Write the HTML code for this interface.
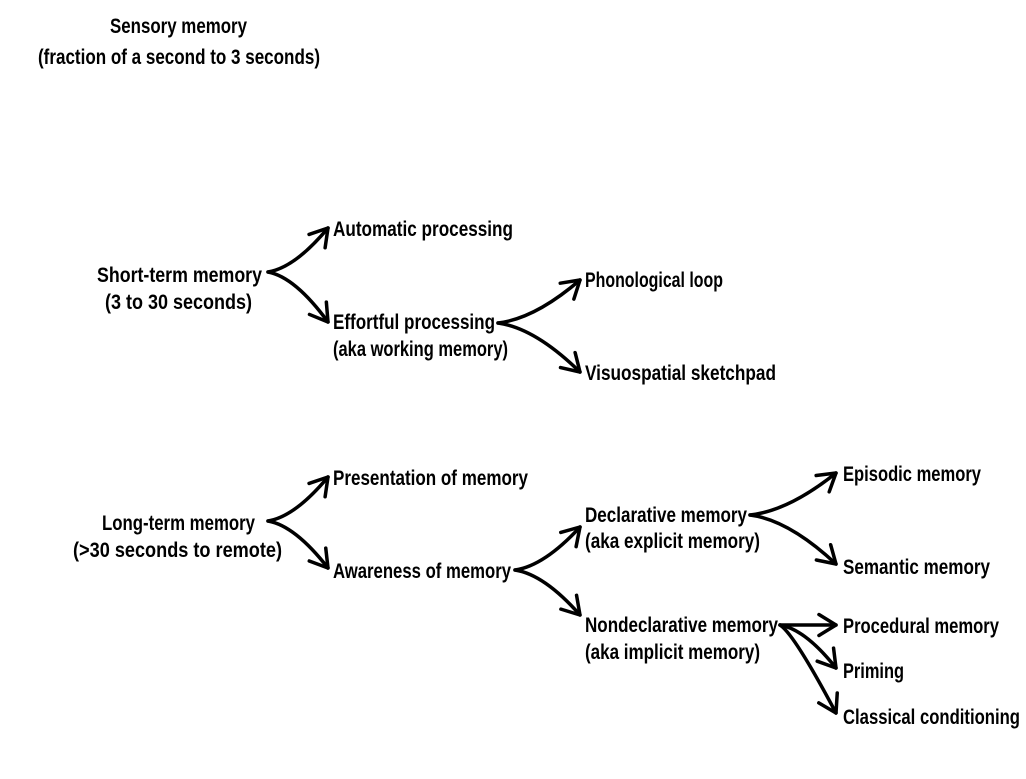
<!DOCTYPE html>
<html><head><meta charset="utf-8"><style>
html,body{margin:0;padding:0;background:#fff;}
svg text{font-family:"Liberation Sans Narrow","Liberation Sans",sans-serif;font-size:21px;fill:#000;font-weight:bold;}
</style></head><body>
<svg id="s" width="1026" height="774" viewBox="0 0 1026 774" xmlns="http://www.w3.org/2000/svg">
<g id="t">
<text x="110" y="33" textLength="137" lengthAdjust="spacingAndGlyphs">Sensory memory</text>
<text x="38" y="64" textLength="282" lengthAdjust="spacingAndGlyphs">(fraction of a second to 3 seconds)</text>
<text x="333" y="236" textLength="180" lengthAdjust="spacingAndGlyphs">Automatic processing</text>
<text x="97" y="282" textLength="165" lengthAdjust="spacingAndGlyphs">Short-term memory</text>
<text x="105" y="309" textLength="147" lengthAdjust="spacingAndGlyphs">(3 to 30 seconds)</text>
<text x="333" y="329" textLength="162" lengthAdjust="spacingAndGlyphs">Effortful processing</text>
<text x="333" y="356" textLength="175" lengthAdjust="spacingAndGlyphs">(aka working memory)</text>
<text x="585" y="287" textLength="138" lengthAdjust="spacingAndGlyphs">Phonological loop</text>
<text x="585" y="380" textLength="191" lengthAdjust="spacingAndGlyphs">Visuospatial sketchpad</text>
<text x="333" y="485" textLength="195" lengthAdjust="spacingAndGlyphs">Presentation of memory</text>
<text x="102" y="530" textLength="153" lengthAdjust="spacingAndGlyphs">Long-term memory</text>
<text x="73" y="557" textLength="209" lengthAdjust="spacingAndGlyphs">(&gt;30 seconds to remote)</text>
<text x="333" y="578" textLength="178" lengthAdjust="spacingAndGlyphs">Awareness of memory</text>
<text x="585" y="522" textLength="162" lengthAdjust="spacingAndGlyphs">Declarative memory</text>
<text x="585" y="548" textLength="175" lengthAdjust="spacingAndGlyphs">(aka explicit memory)</text>
<text x="843" y="481" textLength="138" lengthAdjust="spacingAndGlyphs">Episodic memory</text>
<text x="843" y="574" textLength="147" lengthAdjust="spacingAndGlyphs">Semantic memory</text>
<text x="585" y="632" textLength="193" lengthAdjust="spacingAndGlyphs">Nondeclarative memory</text>
<text x="585" y="659" textLength="175" lengthAdjust="spacingAndGlyphs">(aka implicit memory)</text>
<text x="843" y="633" textLength="156" lengthAdjust="spacingAndGlyphs">Procedural memory</text>
<text x="843" y="678" textLength="61" lengthAdjust="spacingAndGlyphs">Priming</text>
<text x="843" y="724" textLength="177" lengthAdjust="spacingAndGlyphs">Classical conditioning</text>
</g>
<g id="a" fill="none" stroke="#000" stroke-width="3.5" stroke-linecap="round" stroke-linejoin="round"></g>
</svg>
<script>
var g=document.getElementById('a');
function arrow(x0,y0,x1,y1,straight,k){
  var cx,cy,d;k=k||0.45;
  if(straight){d='M'+x0+' '+y0+' L'+x1+' '+y1;cx=x0;cy=y0;}
  else{cx=x0+(x1-x0)*k;cy=y0+(y1-y0)*0.1;d='M'+x0+' '+y0+' Q'+cx+' '+cy+' '+x1+' '+y1;}
  var p=document.createElementNS('http://www.w3.org/2000/svg','path');p.setAttribute('d',d);g.appendChild(p);
  var ang=Math.atan2(y1-cy,x1-cx),L=20,sp=0.55;
  var ax=x1-L*Math.cos(ang-sp),ay=y1-L*Math.sin(ang-sp),bx=x1-L*Math.cos(ang+sp),by=y1-L*Math.sin(ang+sp);
  var h=document.createElementNS('http://www.w3.org/2000/svg','path');
  h.setAttribute('d','M'+ax+' '+ay+' L'+x1+' '+y1+' L'+bx+' '+by);g.appendChild(h);
}
arrow(268,272,328,228);arrow(268,272,328,322);
arrow(498,323,580,280);arrow(498,323,580,372);
arrow(268,521,328,477);arrow(268,521,328,568);
arrow(515,570,580,527);arrow(515,570,580,615);
arrow(750,515,836,473);arrow(750,515,836,564);
arrow(780,625,836,625,true);arrow(780,625,836,668);arrow(780,625,836,713,false,0.25);
</script>
</body></html>
